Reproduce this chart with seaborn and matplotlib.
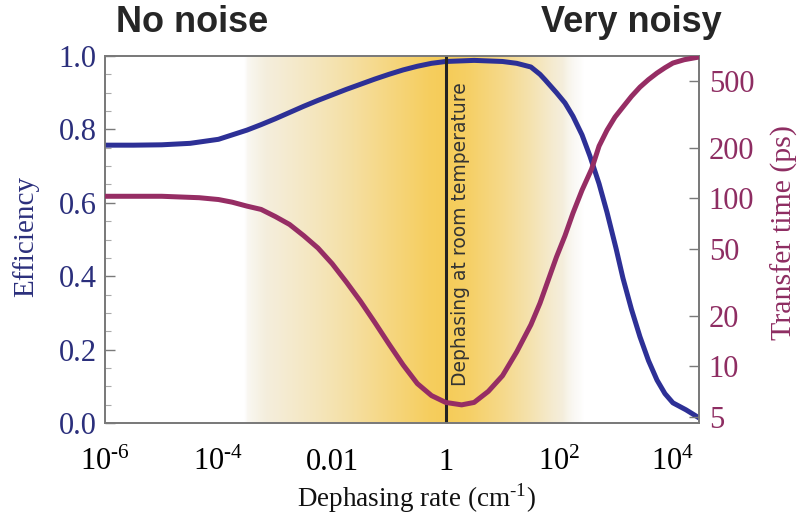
import numpy as np
import pandas as pd
import matplotlib
matplotlib.use("Agg")
import matplotlib.pyplot as plt
import seaborn as sns

# ---------------- data ----------------
# log10 of dephasing rate (cm^-1) and efficiency
eff_log_rate = [-6.0, -5.5, -5.0, -4.5, -4.0, -3.76, -3.5, -3.25, -3.0, -2.75, -2.5,
                -2.25, -2.0, -1.75, -1.5, -1.25, -1.0, -0.75, -0.5, -0.25, 0.0, 0.5,
                1.0, 1.25, 1.5, 1.66, 1.75, 1.95, 2.1, 2.24, 2.4, 2.54, 2.7, 2.84,
                3.0, 3.12, 3.27, 3.42, 3.57, 3.72, 3.86, 4.0, 4.23, 4.46]
efficiency = [0.757, 0.757, 0.758, 0.762, 0.773, 0.785, 0.798, 0.813, 0.829, 0.846, 0.863,
              0.879, 0.894, 0.909, 0.923, 0.937, 0.950, 0.962, 0.972, 0.980, 0.985, 0.988,
              0.985, 0.980, 0.970, 0.950, 0.935, 0.900, 0.872, 0.836, 0.785, 0.727, 0.652, 0.574,
              0.475, 0.395, 0.310, 0.235, 0.170, 0.117, 0.080, 0.055, 0.036, 0.014]

# log10 of dephasing rate (cm^-1) and transfer time (ps)
tt_log_rate = [-6.0, -5.0, -4.34, -4.0, -3.76, -3.5, -3.25, -3.0, -2.75, -2.5, -2.25,
               -2.0, -1.75, -1.5, -1.25, -1.0, -0.75, -0.5, -0.25, 0.0, 0.28, 0.5,
               0.75, 1.0, 1.25, 1.5, 1.66, 1.95, 2.1, 2.24, 2.4, 2.57, 2.7, 2.84,
               2.98, 3.12, 3.27, 3.42, 3.57, 3.72, 3.86, 4.0, 4.2, 4.46]
transfer_time = [103, 103, 101, 98.5, 95, 90, 86, 78, 70, 60, 50.7,
                 40.9, 31.8, 24.4, 18.3, 13.6, 10.2, 7.9, 6.7, 6.1, 5.9, 6.1,
                 7.1, 8.8, 12.2, 17.7, 23.8, 44.8, 60, 81.7, 112, 150, 205, 255,
                 305, 350, 405, 460, 510, 558, 600, 640, 670, 695]

x_ticks = [1e-6, 1e-4, 1e-2, 1, 1e2, 1e4]
x_ticklabels = ["$\\mathregular{10^{\u20106}}$", "$\\mathregular{10^{\u20104}}$", "0.01", "1",
                r"$\mathregular{10^{2}}$", r"$\mathregular{10^{4}}$"]
eff_ticks = [0.0, 0.2, 0.4, 0.6, 0.8, 1.0]
eff_ticklabels = ["0.0", "0.2", "0.4", "0.6", "0.8", "1.0"]
tt_ticks = [5, 10, 20, 50, 100, 200, 500]
tt_ticklabels = ["5", "10", "20", "50", "100", "200", "500"]

room_temp_rate = 1.0

# background shading profile (log10 rate, intensity)
shade_log = [-3.55, -3.5, -3.0, -2.3, -1.7, -1.0, -0.3, 0.0, 0.4, 1.0, 1.5, 1.9, 2.15, 2.35, 2.42]
shade_int = [0.0, 0.06, 0.15, 0.30, 0.45, 0.66, 0.86, 0.90, 0.82, 0.60, 0.38, 0.18, 0.08, 0.03, 0.0]

# ---------------- style ----------------
sns.set_theme(style="white")
plt.rcParams["font.family"] = ["Liberation Serif", "DejaVu Serif"]
plt.rcParams["mathtext.fontset"] = "custom"
plt.rcParams["mathtext.rm"] = "Liberation Serif"

BLUE = "#2D3096"
MAG = "#962D64"
BLUE_TXT = "#2B2F7C"
MAG_TXT = "#8E2D62"
SPINE = "#7a7a7a"

fig = plt.figure(figsize=(8.01, 5.15), dpi=100)
ax = fig.add_axes([0.131, 0.1786, 0.7417, 0.7127])

xmin, xmax = 1e-6, 10 ** 4.46
ax.set_xscale("log")
ax.set_xlim(xmin, xmax)
ax.set_ylim(0, 1.0)

# shading as image in axes coords
npx = 600
frac = np.linspace(0, 1, npx)
logs = np.log10(xmin) + frac * (np.log10(xmax) - np.log10(xmin))
inten = np.interp(logs, shade_log, shade_int, left=0, right=0)
gold = np.array([246, 204, 88]) / 255.0
cream = np.array([244, 241, 232]) / 255.0
white = np.array([1.0, 1.0, 1.0])
edge = np.clip(inten / 0.12, 0, 1)
base = white[None, :] * (1 - edge[:, None]) + cream[None, :] * edge[:, None]
w = np.clip((inten - 0.05) / 0.85, 0, 1)[:, None]
rgb = base * (1 - w) + gold[None, :] * w
img = np.repeat(rgb[None, :, :], 2, axis=0)
ax.imshow(img, extent=[0, 1, 0, 1], transform=ax.transAxes, aspect="auto",
          zorder=0, interpolation="bilinear")

df_eff = pd.DataFrame({"rate": [10 ** v for v in eff_log_rate], "eff": efficiency})
sns.lineplot(data=df_eff, x="rate", y="eff", ax=ax, color=BLUE, linewidth=3.6, zorder=3)

ax.axvline(room_temp_rate, color="#222222", linewidth=2.2, zorder=4)
ax.text(0.598, 0.515, "Dephasing at room temperature", transform=ax.transAxes,
        rotation=90, ha="center", va="center", fontsize=13.5, color="#333333",
        family="DejaVu Sans", zorder=5)

ax.set_xticks(x_ticks)
ax.set_xticklabels(x_ticklabels, fontsize=22, color="black")
ax.set_yticks(eff_ticks)
ax.set_yticklabels(eff_ticklabels, fontsize=22, color=BLUE_TXT)
ax.yaxis.set_minor_locator(matplotlib.ticker.MultipleLocator(0.05))
ax.tick_params(axis="y", which="major", direction="in", length=7, width=1, color=SPINE, pad=6)
ax.tick_params(axis="y", which="minor", direction="in", length=4, width=0.8, color="#aaaaaa", left=True)
ax.tick_params(axis="x", which="major", direction="in", length=0, pad=18)
ax.tick_params(axis="x", which="minor", direction="in", length=3, width=0.8, color="#999999", bottom=True)

ax.set_xlabel("Dephasing rate (cm$^{\\mathregular{\u20101}}$)", fontsize=19.5, color="#111111")
ax.xaxis.set_label_coords(0.524, -0.158)
ax.set_ylabel("Efficiency", fontsize=21, color=BLUE_TXT)
ax.yaxis.set_label_coords(-0.11, 0.507)

for s in ax.spines.values():
    s.set_color(SPINE)
    s.set_linewidth(1.3)
    s.set_visible(True)

ax2 = ax.twinx()
df_tt = pd.DataFrame({"rate": [10 ** v for v in tt_log_rate], "tt": transfer_time})
sns.lineplot(data=df_tt, x="rate", y="tt", ax=ax2, color=MAG, linewidth=3.6, zorder=3)
ax2.set_yscale("log")
ax2.set_ylim(4.6, 705)
ax2.set_xlim(xmin, xmax)
ax2.set_yticks(tt_ticks)
ax2.set_yticklabels(tt_ticklabels, fontsize=22, color=MAG_TXT)
ax2.yaxis.set_minor_locator(matplotlib.ticker.NullLocator())
ax2.tick_params(axis="y", which="major", direction="in", length=7, width=1, color=SPINE, pad=7, right=True)
ax2.set_ylabel("Transfer time (ps)", fontsize=21.5, color=MAG_TXT, rotation=90)
ax2.yaxis.set_label_coords(1.12, 0.52)
ax2.set_xlabel("")
for s in ax2.spines.values():
    s.set_color(SPINE)
    s.set_linewidth(1.3)

fig.text(192 / 801, 1 - 23 / 515, "No noise", ha="center", va="center",
         fontsize=26, fontweight="bold", family="Liberation Sans")
fig.text(631 / 801, 1 - 23 / 515, "Very noisy", ha="center", va="center",
         fontsize=26, fontweight="bold", family="Liberation Sans")

fig.savefig("out.png", dpi=100)
